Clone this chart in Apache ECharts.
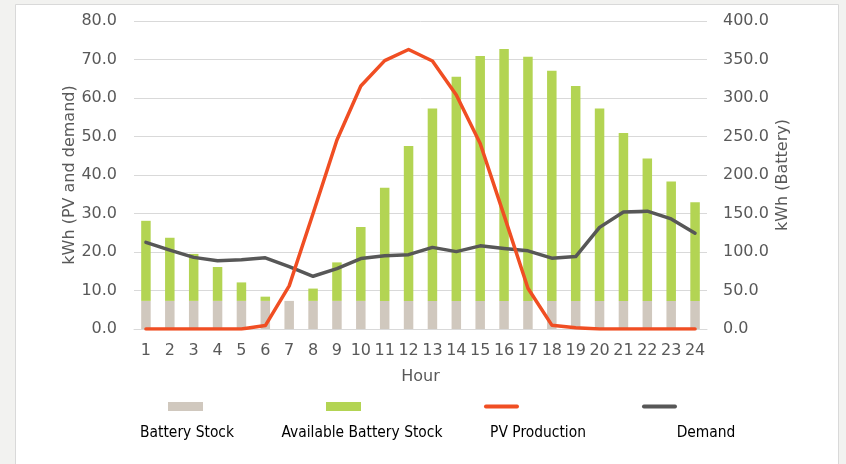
<!DOCTYPE html>
<html><head><meta charset="utf-8">
<script src="https://cdn.jsdelivr.net/npm/echarts@6/dist/echarts.min.js"></script>
<style>html,body{margin:0;padding:0;background:#f2f2f0}#c{width:846px;height:464px}</style>
</head><body><div id="c"></div>
<script>
const hours = ['1','2','3','4','5','6','7','8','9','10','11','12','13','14','15','16','17','18','19','20','21','22','23','24'];
const batteryStock = [36.5,36.5,36.5,36.5,36.5,36.5,36.5,36.5,36.5,36.5,36.5,36.5,36.5,36.5,36.5,36.5,36.5,36.5,36.5,36.5,36.5,36.5,36.5,36.5];
const availableBattery = [104,82,61,44,24,5.5,0,16,50,96,147,201,250,291,318,327,317,299,279,250,218,185,155,128];
const pvProduction = [0,0,0,0,0,0.9,11.2,30,49.1,63.1,69.7,72.6,69.6,60.8,48.2,29.5,10.6,1.0,0.3,0,0,0,0,0];
const demand = [22.5,20.5,18.6,17.7,18.0,18.5,16.2,13.7,15.7,18.3,19.0,19.3,21.2,20.1,21.6,20.9,20.3,18.4,18.8,26.4,30.4,30.6,28.6,24.9];
const leftTicks = {min:0,max:80,interval:10};
const rightTicks = {min:0,max:400,interval:50};
const seriesNames = ['Battery Stock','Available Battery Stock','PV Production','Demand'];

const FONT = 'DejaVu Sans';
const AX = '#595959';
const chart = echarts.init(document.getElementById('c'), null, {renderer:'canvas'});
const legendTextX = [187, 362, 538, 706];
const lineIcon = 'path://M2,0 L35,0 A2,2 0 0 1 35,4 L2,4 A2,2 0 0 1 2,0 Z';
chart.setOption({
  backgroundColor: 'transparent',
  animation: false,
  textStyle: {fontFamily: FONT},
  graphic: [
    {type:'rect', z:-100, silent:true, shape:{x:15.5,y:4.5,width:823,height:480}, style:{fill:'#ffffff', stroke:'#d9d9d9', lineWidth:1}},
  ].concat(seriesNames.map((n,i)=>({type:'text', x: legendTextX[i], y: 433, style:{text:n, fill:'#000', font:'15.4px "DejaVu Sans Condensed", "DejaVu Sans"', textAlign:'center', textVerticalAlign:'middle'}}))),
  grid: {left:134, right:139, top:21, bottom:135},
  legend: {
    left: 163, top: 397, itemWidth: 35, itemHeight: 9, itemGap: 123,
    formatter: () => '',
    data: [
      {name: seriesNames[0], icon:'rect'},
      {name: seriesNames[1], icon:'rect'},
      {name: seriesNames[2], icon:lineIcon},
      {name: seriesNames[3], icon:lineIcon}
    ]
  },
  xAxis: {
    type:'category', data: hours, boundaryGap: true,
    name:'Hour', nameLocation:'middle', nameGap:40, nameMoveOverlap:false,
    nameTextStyle:{color:AX, fontSize:16, fontFamily:FONT},
    axisLine:{show:true, lineStyle:{color:'#d9d9d9'}},
    axisTick:{show:false},
    axisLabel:{color:AX, fontSize:16, fontFamily:FONT, margin:14, interval:0}
  },
  yAxis: [
    {type:'value', min:leftTicks.min, max:leftTicks.max, interval:leftTicks.interval,
     name:'kWh (PV and demand)', nameLocation:'middle', nameGap:56, nameMoveOverlap:false,
     nameTextStyle:{color:AX, fontSize:16, fontFamily:FONT},
     axisLine:{show:false}, axisTick:{show:false},
     axisLabel:{color:AX, fontSize:16, fontFamily:FONT, margin:17, formatter:v=>v.toFixed(1)},
     splitLine:{lineStyle:{color:'#d9d9d9', width:1}}},
    {type:'value', min:rightTicks.min, max:rightTicks.max, interval:rightTicks.interval,
     name:'kWh (Battery)', nameLocation:'middle', nameGap:68, nameMoveOverlap:false,
     nameTextStyle:{color:AX, fontSize:16, fontFamily:FONT},
     axisLine:{show:false}, axisTick:{show:false},
     axisLabel:{color:AX, fontSize:16, fontFamily:FONT, margin:16, formatter:v=>v.toFixed(1)},
     splitLine:{show:false}}
  ],
  series: [
    {name:seriesNames[0], type:'bar', yAxisIndex:1, stack:'b', barWidth:9.5, data:batteryStock, itemStyle:{color:'#d0c8be'}},
    {name:seriesNames[1], type:'bar', yAxisIndex:1, stack:'b', barWidth:9.5, data:availableBattery, itemStyle:{color:'#b3d453'}},
    {name:seriesNames[2], type:'line', yAxisIndex:0, data:pvProduction, symbol:'none', lineStyle:{color:'#f04e23', width:3.5, cap:'round', join:'round'}, itemStyle:{color:'#f04e23'}, z:5},
    {name:seriesNames[3], type:'line', yAxisIndex:0, data:demand, symbol:'none', lineStyle:{color:'#575757', width:3.5, cap:'round', join:'round'}, itemStyle:{color:'#575757'}, z:4}
  ]
});
</script></body></html>
